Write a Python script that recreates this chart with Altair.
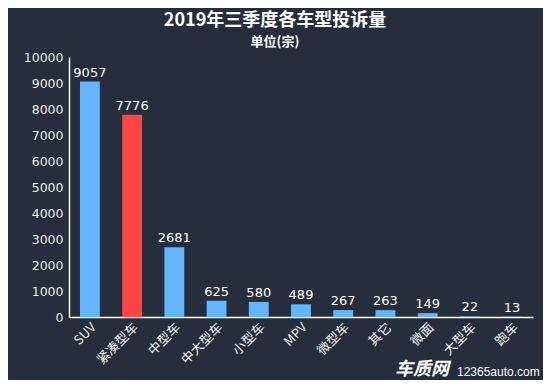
import altair as alt
import pandas as pd

categories = ["SUV", "紧凑型车", "中型车", "中大型车", "小型车", "MPV", "微型车", "其它", "微面", "大型车", "跑车"]
values = [9057, 7776, 2681, 625, 580, 489, 267, 263, 149, 22, 13]
highlight = ["紧凑型车"]
y_ticks = [0, 1000, 2000, 3000, 4000, 5000, 6000, 7000, 8000, 9000, 10000]

df = pd.DataFrame({"cat": categories, "val": values})
df["hl"] = df["cat"].isin(highlight)

x = alt.X("cat:N", sort=categories, title=None,
          scale=alt.Scale(paddingInner=0.53, paddingOuter=0.26),
          axis=alt.Axis(labelAngle=-45, labelAlign="right", labelBaseline="middle",
                        labelColor="#f0f0f0", labelFontSize=13, labelFont="Noto Sans CJK SC",
                        labelPadding=8, labelOffset=4,
                        domainColor="#ffffff", domainWidth=1.5, ticks=False))
y = alt.Y("val:Q", title=None,
          scale=alt.Scale(domain=[0, 10000], nice=False),
          axis=alt.Axis(values=y_ticks, format="d", labelOverlap=False, grid=False, ticks=False,
                        labelColor="#eaeaea", labelFontSize=12.5, labelFont="DejaVu Sans",
                        labelPadding=6, domainColor="#ffffff", domainWidth=1.5))

base = alt.Chart(df).encode(x=x, y=y)
bars = base.mark_bar().encode(
    color=alt.condition("datum.hl", alt.value("#ff4545"), alt.value("#64b5fc")),
)
labels = base.mark_text(baseline="bottom", dy=-2, color="#ffffff",
                        fontSize=13, font="DejaVu Sans").encode(text="val:Q")

wm1 = alt.Chart(pd.DataFrame({"t": ["车质网"]})).mark_text(
    align="left", baseline="middle", color="#ffffff", fontSize=18, fontWeight="bold",
    font="Noto Sans CJK SC", fontStyle="italic").encode(
    x=alt.value(326), y=alt.value(313), text="t:N")
wm2 = alt.Chart(pd.DataFrame({"t": ["12365auto.com"]})).mark_text(
    align="left", baseline="middle", color="#ffffff", fontSize=12,
    font="Liberation Sans").encode(
    x=alt.value(388), y=alt.value(315), text="t:N")

chart = alt.layer(bars, labels, wm1, wm2).properties(
    width=464, height=260,
    padding={"left": 61, "top": 49, "right": 10, "bottom": 63},
    autosize=alt.AutoSizeParams(type="none"),
    background="#262e3d",
    title=alt.TitleParams("2019年三季度各车型投诉量", subtitle="单位(宗)",
                          anchor="middle", dx=-26, color="#ffffff", fontSize=18,
                          fontWeight="bold", font="Noto Sans CJK SC",
                          subtitleColor="#ffffff", subtitleFontSize=13,
                          subtitleFontWeight="bold", subtitleFont="Noto Sans CJK SC",
                          subtitlePadding=6, offset=2),
).configure_view(stroke=None)

chart.save("out.html", embed_options={"renderer": "svg", "actions": False})
